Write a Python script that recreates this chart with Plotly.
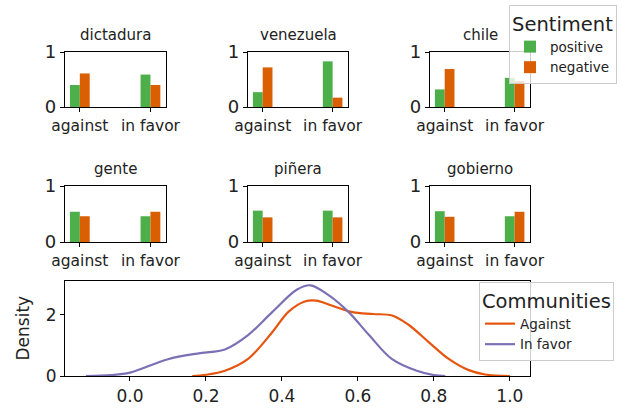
import plotly.graph_objects as go

W, H = 626, 411

words = ["dictadura", "venezuela", "chile", "gente", "piñera", "gobierno"]
groups = ["against", "in favor"]
positive = {
    "dictadura": [0.40, 0.59],
    "venezuela": [0.27, 0.83],
    "chile": [0.32, 0.53],
    "gente": [0.54, 0.46],
    "piñera": [0.56, 0.56],
    "gobierno": [0.55, 0.46],
}
negative = {
    "dictadura": [0.61, 0.40],
    "venezuela": [0.72, 0.17],
    "chile": [0.69, 0.47],
    "gente": [0.46, 0.54],
    "piñera": [0.44, 0.44],
    "gobierno": [0.45, 0.54],
}

# KDE curves
against_x = [0.164, 0.20, 0.25, 0.31, 0.375, 0.417, 0.46, 0.49, 0.533, 0.586, 0.64, 0.69, 0.734, 0.787, 0.84, 0.89, 0.935, 1.0]
against_y = [0.0, 0.04, 0.17, 0.55, 1.44, 2.1, 2.44, 2.47, 2.3, 2.09, 2.03, 1.98, 1.67, 1.1, 0.55, 0.2, 0.05, 0.0]
infavor_x = [-0.116, -0.05, 0.0, 0.1, 0.185, 0.25, 0.31, 0.375, 0.44, 0.475, 0.52, 0.575, 0.63, 0.69, 0.755, 0.80, 0.83]
infavor_y = [0.0, 0.03, 0.11, 0.55, 0.75, 0.87, 1.33, 2.1, 2.83, 2.97, 2.67, 2.1, 1.33, 0.55, 0.17, 0.03, 0.0]

GREEN = "#4daf4a"
ORANGE = "#d95f02"
AGAINST_C = "#e6550d"
INFAVOR_C = "#7b70b5"
FONT = "DejaVu Sans"

cols_px = [(65, 166), (248, 348), (430, 530)]
rows_px = [(52, 107), (186, 242)]

def xd(a, b):
    return [a / W, b / W]

def yd(top, bot):
    return [1 - bot / H, 1 - top / H]

fig = go.Figure()
annotations = []
for i, w in enumerate(words):
    r, c = divmod(i, 3)
    idx = i + 1
    xa = "x" if idx == 1 else f"x{idx}"
    ya = "y" if idx == 1 else f"y{idx}"
    fig.add_trace(go.Bar(x=groups, y=positive[w], name="positive", marker_color=GREEN,
                         marker_line_width=0, offsetgroup="pos", xaxis=xa, yaxis=ya,
                         legend="legend", showlegend=(i == 0), legendgroup="positive"))
    fig.add_trace(go.Bar(x=groups, y=negative[w], name="negative", marker_color=ORANGE,
                         marker_line_width=0, offsetgroup="neg", xaxis=xa, yaxis=ya,
                         legend="legend", showlegend=(i == 0), legendgroup="negative"))
    axx = dict(domain=xd(*cols_px[c]), range=[-0.21, 1.22], showline=True, linecolor="black",
               linewidth=1.2, mirror=True, ticks="outside", ticklen=4, tickcolor="black",
               tickfont=dict(size=15.5, color="#222", family=FONT), anchor=ya, showgrid=False,
               zeroline=False, automargin=False)
    axy = dict(domain=yd(*rows_px[r]), range=[0, 1], tickvals=[0, 1], ticktext=["0", "1"],
               showline=True, linecolor="black", linewidth=1.2, mirror=True, ticks="outside",
               ticklen=4, tickcolor="black", tickfont=dict(size=18, color="#222", family=FONT),
               anchor=xa, showgrid=False, zeroline=False, automargin=False)
    fig.layout[("xaxis" if idx == 1 else f"xaxis{idx}")] = axx
    fig.layout[("yaxis" if idx == 1 else f"yaxis{idx}")] = axy
    cx = (cols_px[c][0] + cols_px[c][1]) / 2 / W
    ty = 1 - (rows_px[r][0] - 17) / H
    annotations.append(dict(text=w, x=cx, y=ty, xref="paper", yref="paper", showarrow=False,
                            xanchor="center", yanchor="middle",
                            font=dict(size=15, color="#222", family=FONT)))

annotations.append(dict(text="Density", x=22 / W, y=1 - 328.5 / H, xref="paper", yref="paper",
                        showarrow=False, textangle=-90, xanchor="center", yanchor="middle",
                        font=dict(size=17, color="#222", family=FONT)))

fig.add_trace(go.Scatter(x=against_x, y=against_y, mode="lines", name="Against",
                         line=dict(color=AGAINST_C, width=2.2, shape="spline", smoothing=1.0),
                         xaxis="x7", yaxis="y7", legend="legend2"))
fig.add_trace(go.Scatter(x=infavor_x, y=infavor_y, mode="lines", name="In favor",
                         line=dict(color=INFAVOR_C, width=2.2, shape="spline", smoothing=1.0),
                         xaxis="x7", yaxis="y7", legend="legend2"))

fig.layout["xaxis7"] = dict(domain=xd(65, 530), range=[-0.171, 1.053], tickvals=[0, 0.2, 0.4, 0.6, 0.8, 1.0],
                            tickformat=".1f", showline=True, linecolor="black", linewidth=1.2, mirror=True,
                            ticks="outside", ticklen=4, tickcolor="black",
                            tickfont=dict(size=17, color="#222", family=FONT), anchor="y7",
                            showgrid=False, zeroline=False, automargin=False)
fig.layout["yaxis7"] = dict(domain=yd(281, 376), range=[0, 3.11], tickvals=[0, 2],
                            showline=True, linecolor="black", linewidth=1.2, mirror=True,
                            ticks="outside", ticklen=4, tickcolor="black",
                            tickfont=dict(size=17, color="#222", family=FONT), anchor="x7",
                            showgrid=False, zeroline=False, automargin=False)

fig.update_layout(
    width=W, height=H, margin=dict(l=0, r=0, t=0, b=0),
    paper_bgcolor="white", plot_bgcolor="white",
    barmode="group", bargap=0.72, bargroupgap=0,
    font=dict(family=FONT, color="#222"),
    annotations=annotations,
    legend=dict(title=dict(text="Sentiment", font=dict(size=19.5, family=FONT, color="#222")),
                x=509 / W, y=1 - 5 / H, xanchor="left", yanchor="top",
                bgcolor="rgba(255,255,255,0.8)", bordercolor="#cccccc", borderwidth=1,
                font=dict(size=13.5, family=FONT, color="#222"), tracegroupgap=0),
    legend2=dict(title=dict(text="Communities", font=dict(size=19.5, family=FONT, color="#222")),
                 x=479 / W, y=1 - 282 / H, xanchor="left", yanchor="top",
                 bgcolor="rgba(255,255,255,0.8)", bordercolor="#cccccc", borderwidth=1,
                 font=dict(size=13.5, family=FONT, color="#222")),
)

fig.write_html("out.html", config={"displayModeBar": False},
               post_script="document.body.style.margin='0';document.body.style.overflow='hidden';")
